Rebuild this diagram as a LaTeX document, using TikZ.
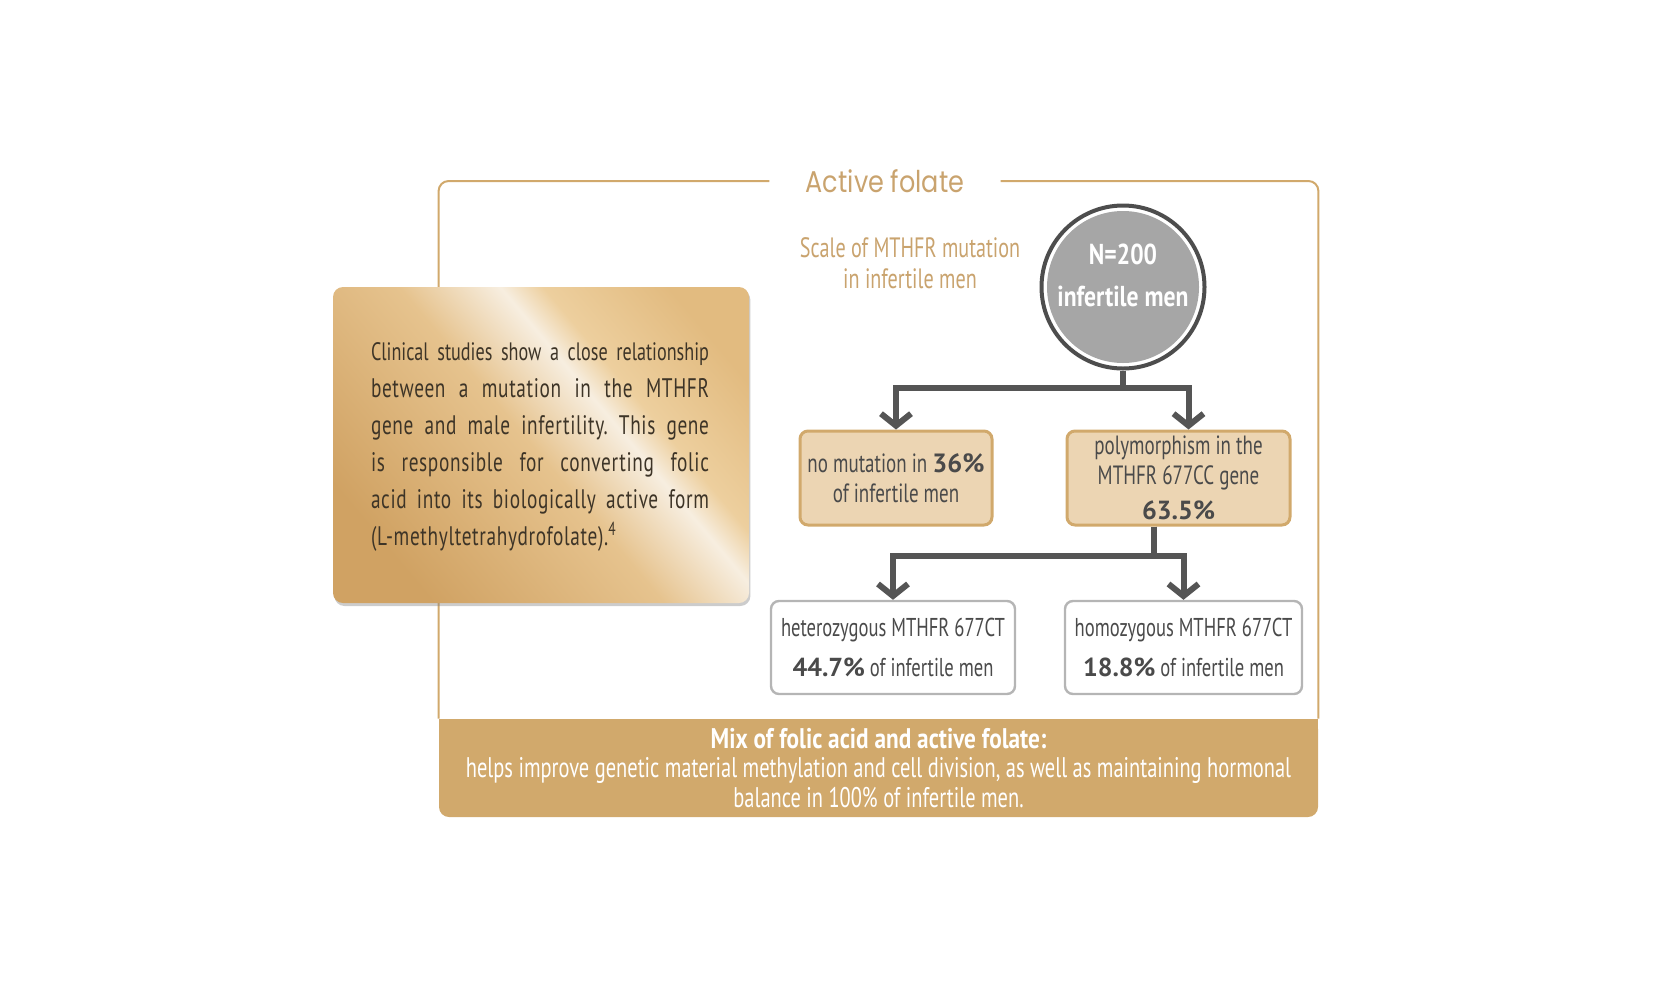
\documentclass[tikz,border=0pt]{standalone}
\usepackage{fontspec}
\setmainfont{PT Sans}[FakeStretch=0.72]
\newfontfamily\titlefont{Poppins}[FakeStretch=0.85]
\newfontfamily\numfont{PT Sans}
\newfontfamily\boldfont{PT Sans}[FakeStretch=0.82]
\newfontfamily\spacedfont{PT Sans}[FakeStretch=0.72, LetterSpace=2.4]
\usetikzlibrary{arrows.meta, calc, shadows, backgrounds}
\definecolor{cgold}{HTML}{D1A96C}
\definecolor{cgoldlt}{HTML}{ECD5B3}
\definecolor{ctitle}{HTML}{C9A36E}
\definecolor{cdark}{HTML}{555555}
\definecolor{cring}{HTML}{4D4D4D}
\definecolor{ccirc}{HTML}{A6A6A6}
\definecolor{cbord}{HTML}{B5B5B5}
\definecolor{ctext}{HTML}{4A4A4A}
\definecolor{cbrown}{HTML}{3D3427}
\definecolor{gone}{HTML}{D0A263}
\definecolor{gtwo}{HTML}{E6C38E}
\definecolor{gthree}{HTML}{F7EEE0}
\definecolor{gfour}{HTML}{EDCF9E}
\definecolor{gfive}{HTML}{E2BB80}
\pgfdeclarehorizontalshading{goldsheen}{100bp}{color(0bp)=(gone); color(25bp)=(gone); color(49bp)=(gtwo); color(59.5bp)=(gthree); color(64bp)=(gfour); color(77bp)=(gfive); color(100bp)=(gfive)}
\newcommand{\pct}[1]{{\numfont\bfseries #1}}
\frenchspacing
\tikzset{
  frame/.style={draw=cgold, line width=1pt, rounded corners=5pt},
  tanbox/.style={draw=cgold, fill=cgoldlt, line width=1.5pt, rounded corners=4pt, align=center, text=ctext,
    font=\fontsize{13.2}{14.75}\selectfont, minimum height=47pt},
  whitebox/.style={draw=cbord, fill=white, line width=1.2pt, rounded corners=4pt, align=center, text=ctext,
    font=\fontsize{12.9}{20}\selectfont, minimum height=46.5pt},
  conn/.style={draw=cdark, line width=3pt, -{Straight Barb[length=6pt, width=15pt]}},
}
\begin{document}
\begin{tikzpicture}[x=0.5pt, y=-0.5pt]
  \useasboundingbox (0,0) rectangle (1654,992);
  \node[text=ctitle, font=\titlefont\fontsize{15}{17}\selectfont, inner ysep=0pt, inner xsep=18pt] (title) at (885,181) {Active folate};
  \node[fill=cgold, rounded corners=5pt, minimum width=439.5pt, minimum height=49pt, align=center, text=white,
    font=\fontsize{14.2}{14.75}\selectfont] (banner) at (878.5,768)
    {{\boldfont\bfseries Mix of folic acid and active folate:}\\helps improve genetic material methylation and cell division, as well as maintaining hormonal\\balance in 100\% of infertile men.};
  \scoped[on background layer] \fill[cgold] (banner.north west) rectangle ([yshift=-5pt]banner.north east);
  \draw[frame] (title.west) -| (banner.north west);
  \draw[frame] (title.east) -| (banner.north east);

  % left panel
  \node[shading=goldsheen, shading angle=40, rounded corners=5pt, minimum width=208pt, minimum height=158pt,
    drop shadow={shadow xshift=0.7pt, shadow yshift=-1.5pt, opacity=0.4}] (gold) at (541,445) {};
  \node[text width=169pt, align=justify, text=cbrown, font=\fontsize{12.6}{18.5}\selectfont] (goldtxt) at (540,447)
    {\spaceskip=0.14em plus 3em minus 0.04em
     Clinical studies show a close relationship\linebreak
     \spacedfont\fontsize{13.4}{18.5}\selectfont between a mutation in the MTHFR\linebreak gene and male infertility. This gene\linebreak is responsible for converting folic\linebreak acid into its biologically active form\linebreak (L-methyltetrahydrofolate).\textsuperscript{4}};

  % tree
  \node[align=center, text=ctitle, font=\fontsize{14}{15.5}\selectfont] (scale) at (910,263) {Scale of MTHFR mutation\\in infertile men};
  \node[circle, draw=cring, line width=2pt, minimum size=81.5pt] (ring) at (1123,287) {};
  \node[circle, fill=ccirc, minimum size=76pt] (total) at (ring) {};
  \node[align=center, text=white, font=\boldfont\bfseries\fontsize{14.4}{21}\selectfont] (totaltxt) at ([yshift=6pt]total.center) {N=200\\infertile men};
  \node[tanbox, minimum width=96pt] (nomut) at (896,478) {no mutation in \pct{36\%}\\of infertile men};
  \node[tanbox, minimum width=111.5pt, inner ysep=0pt] (poly) at (1178.5,478) {polymorphism in the\\MTHFR 677CC gene\\[3pt]\pct{\fontsize{13.1}{14}\selectfont 63.5\%}};
  \node[whitebox, minimum width=122pt] (het) at (893,647.5) {heterozygous MTHFR 677CT\\\pct{\fontsize{13}{20}\selectfont 44.7\%} of infertile men};
  \node[whitebox, minimum width=118.5pt] (hom) at (1183.5,647.5) {homozygous MTHFR 677CT\\\pct{\fontsize{13}{20}\selectfont 18.8\%} of infertile men};
  \draw[conn] (ring.south) -- ++(0,17) -| (nomut.north);
  \draw[conn] (ring.south) -- ++(0,17) -| ([xshift=5pt]poly.north);
  \draw[conn] ([xshift=-12.5pt]poly.south) -- ++(0,29) -| (het.north);
  \draw[conn] ([xshift=-12.5pt]poly.south) -- ++(0,29) -| (hom.north);
\end{tikzpicture}
\end{document}
